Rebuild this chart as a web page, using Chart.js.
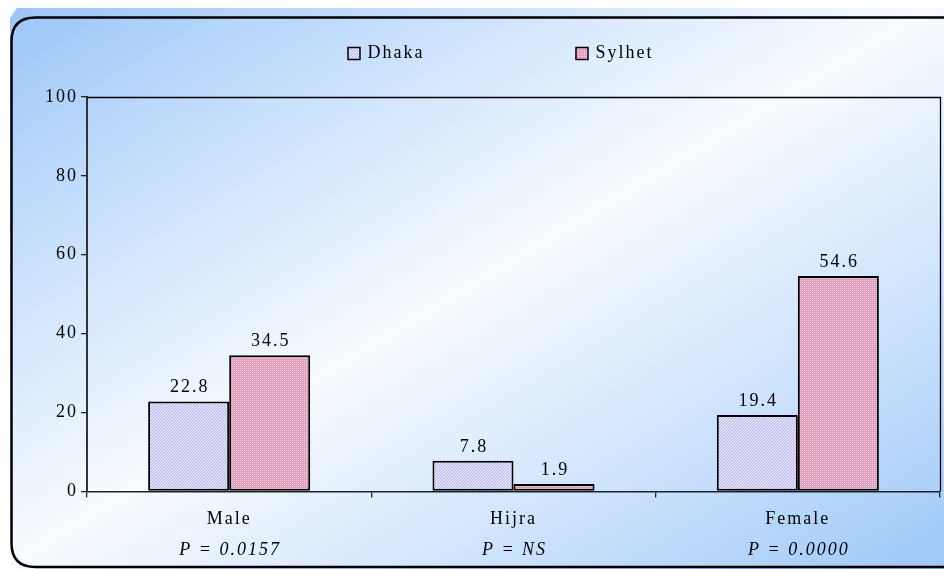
<!DOCTYPE html>
<html>
<head>
<meta charset="utf-8">
<script src="https://cdn.jsdelivr.net/npm/chart.js@4/dist/chart.umd.min.js"></script>
<style>
  html, body { margin: 0; padding: 0; background: #ffffff; }
  #wrap { width: 944px; height: 569px; position: relative; }
</style>
</head>
<body>
<div id="wrap"><canvas id="c" width="944" height="569"></canvas></div>
<script>
// ---- data ----
const categories = ['Male', 'Hijra', 'Female'];
const pValues = ['P = 0.0157', 'P = NS', 'P = 0.0000'];
const seriesNames = ['Dhaka', 'Sylhet'];
const dhakaValues = [22.8, 7.8, 19.4];
const sylhetValues = [34.5, 1.9, 54.6];
const yTickMin = 0;
const yTickMax = 100;
const yTickStep = 20;

// ---- styles ----
const FONT_FAMILY = "'Liberation Serif', 'Times New Roman', serif";
const FONT_SIZE = 18;
const LETTER_SPACING = '2px';

function makeHatch() {
  const c = document.createElement('canvas');
  c.width = 3; c.height = 3;
  const g = c.getContext('2d');
  g.fillStyle = '#c2c2f8';
  g.fillRect(0, 0, 3, 3);
  g.fillStyle = '#f4f4ff';
  for (let i = 0; i < 3; i++) { g.fillRect((2 - i + 3) % 3, i, 1, 1); }
  return g.createPattern(c, 'repeat');
}
function makeDots() {
  const c = document.createElement('canvas');
  c.width = 2; c.height = 2;
  const g = c.getContext('2d');
  g.fillStyle = '#e09cba';
  g.fillRect(0, 0, 2, 2);
  g.fillStyle = '#f4d2e0';
  g.fillRect(0, 0, 1, 1);
  return g.createPattern(c, 'repeat');
}
const dhakaFill = makeHatch();
const sylhetFill = makeDots();

const spacingPlugin = {
  id: 'spacing',
  beforeUpdate(chart) { chart.ctx.letterSpacing = LETTER_SPACING; },
  beforeLayout(chart) { chart.ctx.letterSpacing = LETTER_SPACING; },
  beforeDraw(chart) { chart.ctx.letterSpacing = LETTER_SPACING; }
};

const backgroundPlugin = {
  id: 'bgPanel',
  beforeDraw(chart) {
    const ctx = chart.ctx;
    const W = chart.width, H = chart.height;
    ctx.save();
    ctx.fillStyle = '#ffffff';
    ctx.fillRect(0, 0, W, H);
    const cx = W / 2, cy = H / 2;
    const len = Math.hypot(H, W);
    const dx = H / len, dy = W / len;
    const s = (cx * H + cy * W) / len;
    const grad = ctx.createLinearGradient(cx - s * dx, cy - s * dy, cx + s * dx, cy + s * dy);
    grad.addColorStop(0, '#98c4f8');
    grad.addColorStop(0.22, '#c4defc');
    grad.addColorStop(0.5, '#f8fbff');
    grad.addColorStop(0.78, '#c8e0fc');
    grad.addColorStop(1, '#9cc8f8');
    ctx.beginPath();
    ctx.moveTo(17, 8);
    ctx.lineTo(W, 8);
    ctx.lineTo(W, H);
    ctx.lineTo(22, H);
    ctx.quadraticCurveTo(11, H, 11, H - 20);
    ctx.lineTo(10, 18);
    ctx.closePath();
    ctx.fillStyle = grad;
    ctx.fill();
    const x0 = 11.5, y0 = 17.5, x1 = 962, y1 = 567, r = 24;
    ctx.beginPath();
    ctx.moveTo(x1, y0);
    ctx.lineTo(x0 + r, y0);
    ctx.quadraticCurveTo(x0, y0, x0, y0 + r);
    ctx.lineTo(x0, y1 - r);
    ctx.quadraticCurveTo(x0, y1, x0 + r, y1);
    ctx.lineTo(x1, y1);
    ctx.lineWidth = 2.5;
    ctx.strokeStyle = '#000000';
    ctx.stroke();
    ctx.restore();
    chart.ctx.letterSpacing = LETTER_SPACING;
  }
};

const decorPlugin = {
  id: 'decor',
  afterDatasetsDraw(chart) {
    const ctx = chart.ctx;
    const a = chart.chartArea;
    ctx.save();
    ctx.letterSpacing = LETTER_SPACING;
    ctx.strokeStyle = '#000000';
    ctx.lineWidth = 1.3;
    ctx.beginPath();
    ctx.moveTo(a.left, a.top + 0.5);
    ctx.lineTo(a.right + 0.5, a.top + 0.5);
    ctx.lineTo(a.right + 0.5, a.bottom);
    ctx.stroke();
    ctx.fillStyle = '#000000';
    ctx.font = FONT_SIZE + 'px ' + FONT_FAMILY;
    ctx.textAlign = 'center';
    ctx.textBaseline = 'alphabetic';
    chart.data.datasets.forEach((ds, di) => {
      const meta = chart.getDatasetMeta(di);
      meta.data.forEach((bar, i) => {
        ctx.fillText(String(ds.data[i].toFixed(1)), bar.x + 1, bar.y - 9);
      });
    });
    const xs = chart.scales.x;
    ctx.font = 'italic ' + FONT_SIZE + 'px ' + FONT_FAMILY;
    ctx.textBaseline = 'middle';
    pValues.forEach((p, i) => {
      ctx.fillText(p, xs.getPixelForValue(i) + 1, a.bottom + 59);
    });
    ctx.font = FONT_SIZE + 'px ' + FONT_FAMILY;
    ctx.textAlign = 'left';
    const cxm = (a.left + a.right) / 2;
    const starts = [cxm - 166, cxm + 62];
    chart.data.datasets.forEach((ds, di) => {
      const bx = starts[di];
      const by = 47;
      ctx.fillStyle = ds.backgroundColor;
      ctx.fillRect(bx, by, 12, 12);
      ctx.lineWidth = 1.5;
      ctx.strokeStyle = '#000000';
      ctx.strokeRect(bx + 0.5, by + 0.5, 12, 12);
      ctx.fillStyle = '#000000';
      ctx.textBaseline = 'middle';
      ctx.fillText(ds.label, bx + 20, by + 6);
    });
    ctx.restore();
  }
};

new Chart(document.getElementById('c'), {
  type: 'bar',
  data: {
    labels: categories,
    datasets: [
      { label: seriesNames[0], data: dhakaValues, backgroundColor: dhakaFill,
        borderColor: '#000000', borderWidth: 2, borderSkipped: false },
      { label: seriesNames[1], data: sylhetValues, backgroundColor: sylhetFill,
        borderColor: '#000000', borderWidth: 2, borderSkipped: false }
    ]
  },
  options: {
    responsive: false,
    animation: false,
    devicePixelRatio: 1,
    layout: { padding: { top: 97, right: 4, bottom: 28, left: 42 } },
    datasets: { bar: { categoryPercentage: 0.57, barPercentage: 1.0 } },
    plugins: { legend: { display: false }, tooltip: { enabled: false }, title: { display: false } },
    scales: {
      x: {
        grid: { offset: true, drawOnChartArea: false, drawTicks: true, tickLength: 6, color: '#222222', lineWidth: 1.3 },
        border: { display: true, color: '#222222', width: 1.5 },
        ticks: { color: '#000000', padding: 11, font: { family: FONT_FAMILY, size: FONT_SIZE } }
      },
      y: {
        min: yTickMin, max: yTickMax,
        grid: { drawOnChartArea: false, drawTicks: true, tickLength: 6, color: '#222222', lineWidth: 1.3 },
        border: { display: true, color: '#333333', width: 2 },
        ticks: { stepSize: yTickStep, color: '#000000', padding: 3, font: { family: FONT_FAMILY, size: FONT_SIZE } }
      }
    }
  },
  plugins: [spacingPlugin, backgroundPlugin, decorPlugin]
});
</script>
</body>
</html>
